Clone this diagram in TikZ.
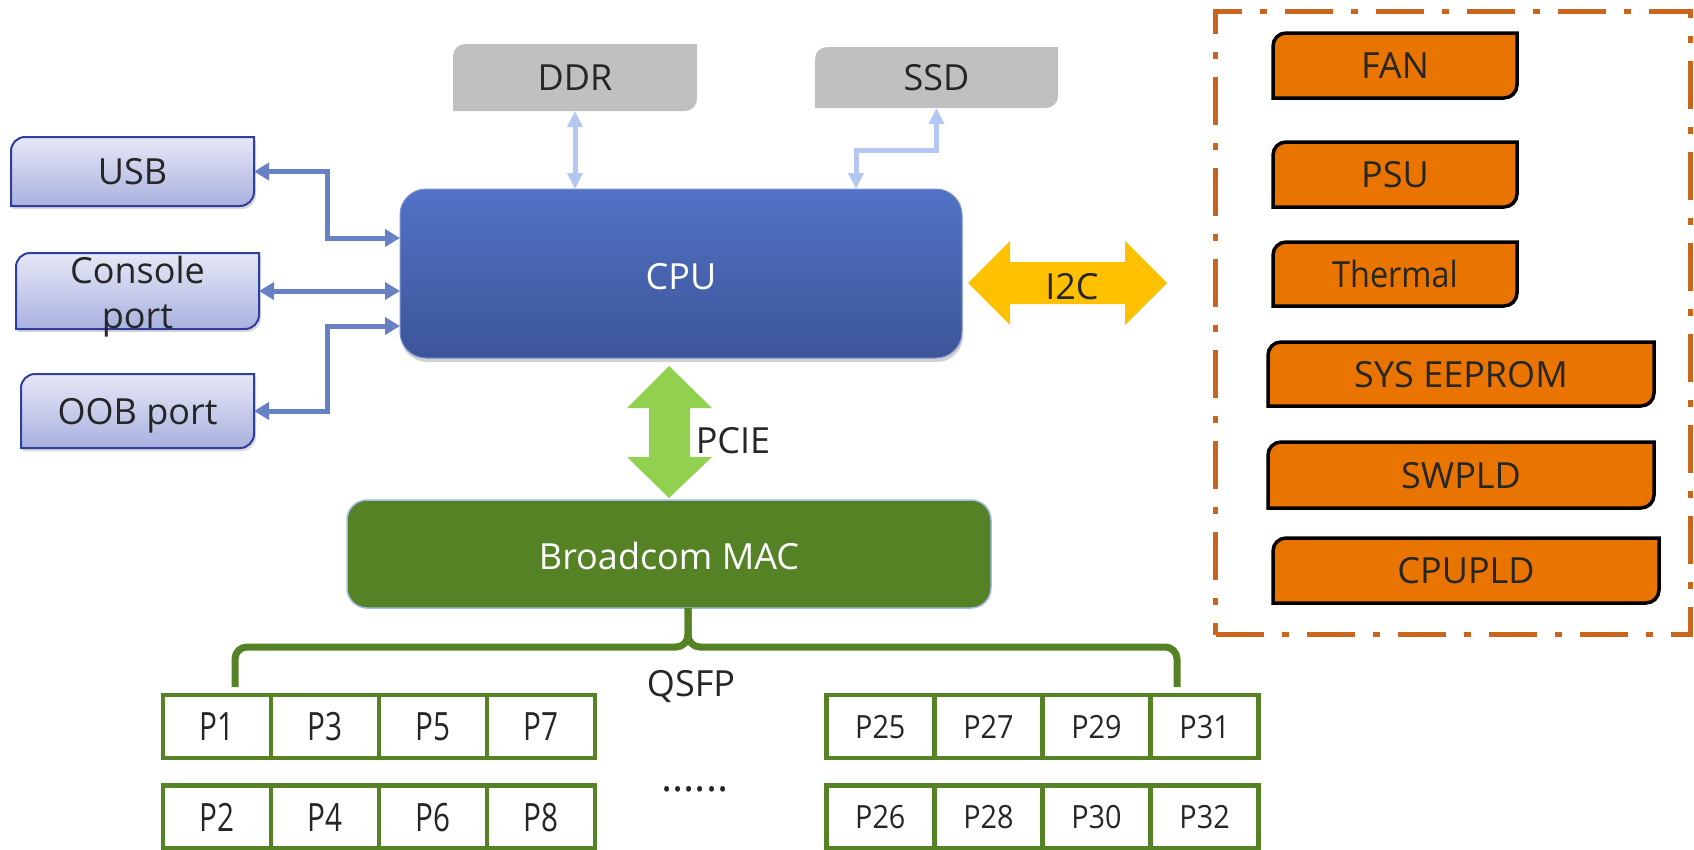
\documentclass[tikz,border=0pt]{standalone}
\usepackage{fontspec}
\setmainfont{Open Sans}
\usetikzlibrary{arrows.meta,backgrounds,shadows}
\definecolor{txtc}{HTML}{262626}
\definecolor{usbtop}{HTML}{E6E8F6}
\definecolor{usbbot}{HTML}{A9B1DF}
\definecolor{usbedge}{HTML}{2F3E9E}
\definecolor{linkblue}{HTML}{6881C4}
\definecolor{lightlink}{HTML}{B4C7F3}
\definecolor{cputop}{HTML}{5272C6}
\definecolor{cpubot}{HTML}{3D5598}
\definecolor{cpuedge}{HTML}{7E93D6}
\definecolor{graybox}{HTML}{C0C0C0}
\definecolor{macgreen}{HTML}{568226}
\definecolor{macedge}{HTML}{A3B9E6}
\definecolor{pciegreen}{HTML}{92D050}
\definecolor{i2cyellow}{HTML}{FFC000}
\definecolor{orangebox}{HTML}{E97400}
\definecolor{orangeframe}{HTML}{C9651C}
% path with rounded top-left and bottom-right corners around a node
\newcommand\diagpath[3]{%
  \path[#1] (#2.south west) -- ([yshift=-#3]#2.north west) .. controls ([yshift=-0.45*#3]#2.north west) and ([xshift=0.45*#3]#2.north west) .. ([xshift=#3]#2.north west)
    -- (#2.north east) -- ([yshift=#3]#2.south east) .. controls ([yshift=0.45*#3]#2.south east) and ([xshift=-0.45*#3]#2.south east) .. ([xshift=-#3]#2.south east) -- cycle;}
\newcommand\boxat[7]{\node[lbl,#6,minimum width={(#4-#2)*1pt},minimum height={(#5-#3)*1pt}] (#1) at ({(#2+#4)/2},{(#3+#5)/2}) {#7};}
\newcommand\nar[2]{\scalebox{#1}[1]{#2}}
\begin{document}
\begin{tikzpicture}[x=1pt,y=-1pt,
  lbl/.style={font=\fontsize{36}{43}\selectfont, text=txtc, text height=26pt, text depth=0pt, inner sep=0pt, outer sep=0pt},
  usbshape/.style={top color=usbtop, bottom color=usbbot, draw=usbedge, line width=2pt,
    drop shadow={shadow xshift=2pt, shadow yshift=-3pt, opacity=0.25, fill=black!60}},
  grayshape/.style={fill=graybox},
  orangeshape/.style={fill=orangebox, draw=black, line width=3.5pt},
  cpubox/.style={rounded corners=26pt, top color=cputop, bottom color=cpubot, draw=cpuedge, line width=1pt,
    drop shadow={shadow xshift=1pt, shadow yshift=-4pt, opacity=0.3, fill=black!60}},
  macbox/.style={rounded corners=20pt, fill=macgreen, draw=macedge, line width=1.5pt},
  cell/.style={lbl, draw=macgreen, line width=4.5pt, fill=white, minimum width=108pt, minimum height=63pt},
  bigcell/.style={cell, font=\fontsize{39}{46}\selectfont, text height=28pt},
  smallcell/.style={cell, font=\fontsize{32}{38}\selectfont, text height=23pt},
  barrow/.style={draw=linkblue, line width=5pt,
    arrows={Triangle[length=15pt,width=17pt]-Triangle[length=15pt,width=17pt]}},
  larrow/.style={draw=lightlink, line width=5pt,
    arrows={Triangle[length=16pt,width=15pt]-Triangle[length=16pt,width=15pt]}},
  brace/.style={draw=macgreen, line width=7pt, rounded corners=12pt},
]
\useasboundingbox (0,0) rectangle (1694,849);

% ---------- left interface boxes ----------
\boxat{usb}{11}{137}{254}{206}{}{USB}
\boxat{console}{16}{253}{259}{329}{}{}
\boxat{oob}{21}{374}{254}{448}{}{OOB port}
\node[lbl] (consoleA) at (137.5,270) {Console};
\node[lbl] (consoleB) at (137.5,315) {port};

% ---------- CPU / memory ----------
\boxat{cpu}{400}{189}{962}{358}{cpubox, text=white, text height=31pt}{CPU}
\boxat{ddr}{453}{44}{697}{111}{}{DDR}
\boxat{ssd}{815}{47}{1058}{108}{}{SSD}

% ---------- MAC ----------
\boxat{mac}{347}{500}{991}{608}{macbox, text=white, text height=31pt}{Broadcom MAC}

% ---------- peripheral frame ----------
\node[draw=orangeframe, line width=5pt, dash pattern=on 48pt off 18pt on 7pt off 18pt,
  minimum width=475pt, minimum height=623pt, inner sep=0pt, outer sep=0pt] (frame) at (1453,323) {};
\boxat{fan}{1273}{33}{1517}{98}{}{FAN}
\boxat{psu}{1273}{142}{1517}{207}{}{PSU}
\boxat{thermal}{1273}{242}{1517}{306}{}{\nar{0.9}{Thermal}}
\boxat{eeprom}{1268}{342}{1654}{406}{}{SYS EEPROM}
\boxat{swpld}{1268}{442}{1654}{508}{}{SWPLD}
\boxat{cpupld}{1273}{538}{1659}{603}{}{CPUPLD}

\begin{scope}[on background layer]
  \diagpath{usbshape}{usb}{14pt}
  \diagpath{usbshape}{console}{14pt}
  \diagpath{usbshape}{oob}{14pt}
  \diagpath{grayshape}{ddr}{12pt}
  \diagpath{grayshape}{ssd}{12pt}
  \diagpath{orangeshape}{fan}{13pt}
  \diagpath{orangeshape}{psu}{13pt}
  \diagpath{orangeshape}{thermal}{13pt}
  \diagpath{orangeshape}{eeprom}{13pt}
  \diagpath{orangeshape}{swpld}{13pt}
  \diagpath{orangeshape}{cpupld}{13pt}
\end{scope}

% ---------- connectors ----------
\draw[barrow] (usb.east) -| (327,238) -- (cpu.west |- 327,238);
\draw[barrow] (console.east) -- (cpu.west |- console.east);
\draw[barrow] (oob.east) -| (327,326) -- (cpu.west |- 327,326);
\draw[larrow] (ddr.south) -- (cpu.north -| ddr.south);
\draw[larrow] (ssd.south) |- (856,150) -- (cpu.north -| 856,150);

% I2C wide arrow
\fill[i2cyellow] (968,283) -- (1010,241) -- (1010,262) -- (1125,262) -- (1125,241) -- (1167,283)
  -- (1125,325) -- (1125,304) -- (1010,304) -- (1010,325) -- cycle;
\node[lbl] (i2c) at (1072,286) {I2C};

% PCIE wide arrow
\fill[pciegreen] (669,366) -- (712,408) -- (690,408) -- (690,457) -- (712,457) -- (669,498)
  -- (627,457) -- (649,457) -- (649,408) -- (627,408) -- cycle;
\node[lbl] (pcie) at (733,440) {PCIE};

% ---------- ports ----------
\foreach \i/\t in {0/1,1/3,2/5,3/7}
  \node[bigcell] (p\t) at ({217.2+107.9*\i},726.5) {\nar{0.76}{P\t}};
\foreach \i/\t in {0/2,1/4,2/6,3/8}
  \node[bigcell] (p\t) at ({217.2+107.9*\i},817) {\nar{0.76}{P\t}};
\foreach \i/\t in {0/25,1/27,2/29,3/31}
  \node[smallcell] (p\t) at ({880.3+108.1*\i},726.5) {\nar{0.9}{P\t}};
\foreach \i/\t in {0/26,1/28,2/30,3/32}
  \node[smallcell] (p\t) at ({880.3+108.1*\i},817) {\nar{0.9}{P\t}};

% QSFP brace
\coordinate (bl) at (235,687);
\coordinate (br) at (1177,687);
\coordinate (bm) at (688,647);
\draw[brace] (bl) |- (bm) -- (mac.south -| bm);
\draw[brace] (br) |- (bm) -- (mac.south -| bm);
\node[lbl] (qsfp) at (691,683) {QSFP};
\node[lbl, font=\fontsize{42}{50}\selectfont] (dots) at (695,778) {......};
\end{tikzpicture}
\end{document}
